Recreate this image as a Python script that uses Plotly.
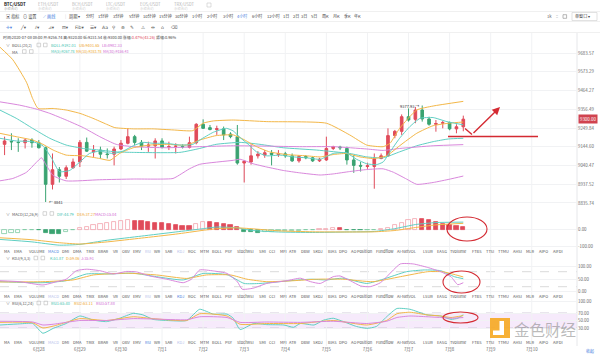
import math
from datetime import datetime, timedelta
import plotly.graph_objects as go

W, H = 600, 354
FONT = "Noto Sans CJK SC"
RED = "#e04b5a"
GREEN = "#3aa371"
TEAL = "#5fcfc3"
ORANGE = "#f3b748"
PINK = "#d987dc"
T_TEAL = "#3fbfb0"
T_ORANGE = "#eea52c"
T_PINK = "#cf6ad3"
DRAW = "#d42a32"
GRID = "#f1f2f4"
TXT = "#555555"

# ---------------- data ----------------
START = datetime(2020, 6, 27, 4, 0)      # first 4h candle
STEP = timedelta(hours=4)

opens = [9158, 9175, 9170, 9167, 9182, 9167, 9139, 8937, 9017, 8981, 9028, 9060, 9169, 9116, 9126, 9104,
         9103, 9132, 9164, 9201, 9169, 9148, 9150, 9177, 9143, 9147, 9146, 9141, 9167, 9271, 9252, 9241,
         9245, 9216, 9201, 9054, 9060, 9094, 9098, 9109, 9101, 9105, 9094, 9066, 9090, 9083, 9066, 9071,
         9135, 9143, 9135, 9071, 9041, 9035, 9035, 9079, 9094, 9207, 9231, 9314, 9299, 9352, 9301, 9271,
         9277, 9280, 9245, 9256.74]
highs = [9201, 9220, 9192, 9192, 9192, 9182, 9145, 9107, 9032, 9041, 9079, 9182, 9196, 9154, 9145, 9135,
         9145, 9182, 9248, 9211, 9182, 9173, 9192, 9192, 9173, 9164, 9158, 9201, 9277, 9299, 9267, 9263,
         9258, 9226, 9267, 9069, 9158, 9120, 9126, 9126, 9126, 9116, 9107, 9098, 9098, 9088, 9083, 9201,
         9150, 9150, 9145, 9098, 9060, 9056, 9107, 9107, 9248, 9239, 9327, 9361, 9370, 9377.93, 9314, 9295,
         9290, 9286, 9271, 9320.00]
lows = [9098, 9126, 9116, 9135, 9139, 9135, 8841, 8909, 8947, 8966, 9022, 9032, 9116, 9088, 9079, 9079,
        9041, 9126, 9158, 9154, 9126, 9116, 9079, 9135, 9126, 9107, 9135, 9135, 9158, 9245, 9237, 9211,
        9182, 9192, 9045, 8947, 9045, 9079, 9083, 9041, 9088, 9083, 9060, 9056, 9075, 9060, 9060, 9066,
        9126, 9126, 9045, 9000, 9007, 9022, 8913, 9075, 9088, 9192, 9211, 9286, 9277, 9286, 9263, 9229,
        9248, 9237, 9220, 9231.54]
closes = [9177, 9172, 9168, 9182, 9167, 9139, 8937, 9017, 8981, 9028, 9060, 9169, 9120, 9124, 9103, 9101,
          9132, 9164, 9201, 9169, 9148, 9154, 9177, 9141, 9145, 9148, 9144, 9167, 9271, 9248, 9241, 9246,
          9211, 9201, 9054, 9064, 9094, 9103, 9111, 9101, 9107, 9094, 9066, 9090, 9083, 9066, 9075, 9135,
          9145, 9139, 9071, 9041, 9037, 9039, 9079, 9094, 9207, 9231, 9314, 9295, 9352, 9301, 9271, 9275,
          9280, 9245, 9256.74, 9300.00]

# overlay lines: positions in candle units, values
ub_idx = [-0.7, 1.2, 3.2, 4.1, 4.9, 7.1, 9.0, 11.0, 12.9, 14.9, 16.1, 18.8, 21.7, 24.6, 27.5, 29.0, 30.5,
          33.4, 38.3, 47.0, 50.4, 52.9, 55.3, 56.3, 57.7, 60.2, 62.6, 67]
ub_val = [9719, 9644, 9512, 9418, 9361, 9361, 9352, 9333, 9305, 9271, 9252, 9245, 9245, 9239, 9235, 9277,
          9290, 9295, 9286, 9277, 9211, 9154, 9145, 9164, 9248, 9352, 9375, 9401.65]
boll_idx = [-0.7, 1.7, 4.1, 6.6, 9.0, 11.5, 13.9, 16.3, 18.8, 25.6, 28.5, 30.9, 34.4, 37.3, 40.7, 45.6,
            50.4, 52.9, 55.3, 57.7, 60.2, 62.6, 64.8, 67]
boll_val = [9352, 9305, 9248, 9192, 9154, 9135, 9126, 9116, 9113, 9113, 9135, 9158, 9169, 9158, 9139, 9126,
            9107, 9088, 9083, 9116, 9150, 9173, 9188, 9192.01]
lb_idx = [-0.7, 1.2, 3.2, 4.6, 5.4, 6.1, 7.1, 9.0, 13.9, 18.8, 24.6, 25.8, 27.0, 28.5, 33.4, 34.4, 36.3,
          38.3, 40.7, 43.1, 46.1, 48.0, 50.4, 52.9, 55.3, 56.8, 58.7, 60.2, 62.6, 65.1, 67]
lb_val = [8956, 8969, 9003, 9056, 9083, 9041, 8985, 8956, 8962, 8966, 8969, 8994, 9022, 9047, 9069, 9075,
          9050, 9032, 9013, 9000, 8988, 8994, 9007, 9018, 9022, 9003, 8966, 8937, 8947, 8966, 8982.33]
ma5_idx = [-0.7, 1.7, 4.1, 5.6, 6.9, 8.0, 9.5, 11.0, 12.4, 13.9, 15.8, 17.3, 18.8, 20.2, 21.7, 23.6, 25.6,
           27.5, 28.5, 30.5, 32.4, 33.4, 34.4, 35.6, 36.8, 38.3, 40.2, 42.2, 44.1, 46.1, 48.0, 49.9, 51.4,
           52.9, 54.3, 55.3, 56.3, 57.7, 59.2, 60.7, 62.6, 64.6, 67]
ma5_val = [9192, 9177, 9173, 9150, 9079, 9007, 9013, 9060, 9107, 9120, 9107, 9120, 9150, 9169, 9164, 9164,
           9154, 9158, 9182, 9226, 9248, 9233, 9196, 9158, 9116, 9094, 9098, 9088, 9083, 9075, 9107, 9111,
           9075, 9050, 9045, 9060, 9116, 9192, 9258, 9305, 9309, 9286, 9267.78]
ma10_idx = [-0.7, 1.7, 4.1, 5.6, 7.1, 9.0, 11.5, 13.9, 15.4, 16.8, 18.8, 21.2, 23.6, 26.6, 28.5, 30.9, 33.4,
            34.8, 36.8, 38.7, 41.2, 44.1, 46.1, 48.0, 49.9, 51.9, 53.9, 55.8, 57.7, 60.2, 62.6, 65.1, 67]
ma10_val = [9220, 9201, 9182, 9158, 9126, 9098, 9094, 9079, 9069, 9107, 9139, 9154, 9158, 9154, 9182, 9207,
            9211, 9188, 9145, 9116, 9101, 9094, 9088, 9101, 9107, 9088, 9079, 9094, 9150, 9220, 9263, 9278,
            9283.78]
ma30_idx = [-0.7, 2.2, 4.6, 6.6, 9.0, 11.5, 13.9, 16.3, 18.8, 23.6, 28.5, 33.4, 38.3, 43.1, 48.0, 52.9,
            55.3, 57.7, 62.6, 67]
ma30_val = [9399, 9380, 9358, 9333, 9295, 9252, 9201, 9158, 9145, 9139, 9145, 9150, 9148, 9145, 9145, 9132,
            9124, 9135, 9150, 9156.43]

macd_hist = [-25, -22, -20, -4, -3, -4, -22, -26, -28, -14, -6, 8, 18, 27, 34, 40, 45, 52, 55, 54, 50, 46,
             42, 38, 33, 28, 23, 20, 32, 45, 44, 40, 36, 28, 18, -15, -18, -20, -16, -14, -12, -10, -9, -7,
             -5, -4, 4, 6, 9, 7, -3, -5, -6, -4, -3, 3, 12, 28, 42, 55, 66, 64, 55, 45, 36, 28, 20, 15.04]
dif_idx = [-0.7, 4, 8, 11, 15, 20, 25, 29, 31, 34, 36, 40, 45, 50, 54, 57, 60, 63, 67]
dif_val = [-60, -75, -95, -90, -65, -40, -15, 5, 15, 10, -5, -15, -18, -15, -12, 5, 30, 42, 44.79]
dea_val = [-50, -62, -80, -88, -75, -52, -28, -5, 5, 10, 5, -8, -14, -15, -14, -6, 12, 28, 37.27]

k_idx = [-0.7, 5.6, 9, 12, 15.4, 18.8, 22.2, 26.1, 29, 32.5, 35, 37.3, 41.7, 44.7, 47, 49.4, 52.9, 55.3,
         58.7, 61.3, 63.7, 65.7, 67]
k_val = [40, 36, 44, 71, 71, 74, 60, 47, 73, 68, 33, 33, 44, 50, 47, 54, 33, 50, 80, 87, 84, 60, 51.87]
d_idx = [-0.7, 5.6, 10, 13, 17.8, 22.2, 26.6, 29.5, 33, 35.4, 38.3, 42.2, 45.6, 49.4, 53.8, 57.8, 61.8, 64, 67]
d_val = [39, 40, 47, 67, 74, 67, 53, 67, 67, 50, 40, 44, 50, 50, 40, 60, 80, 80, 59.06]
j_idx = [-0.7, 2.2, 5.6, 7.6, 9, 10.5, 12, 13.9, 15.9, 17.8, 19.3, 21.2, 23.7, 26.1, 27.3, 28.5, 30.5, 32.5,
         34, 34.7, 36.3, 38.3, 41.2, 43.2, 44.7, 46.1, 48, 49, 50.5, 52, 53.4, 54.9, 57.8, 59.7, 61.8, 63.7,
         65.2, 66.2, 67]
j_val = [44, 40, 27, 40, 50, 84, 90, 84, 71, 81, 79, 63, 50, 36, 50, 87, 83, 73, 40, 10, 14, 33, 44, 54, 40,
         33, 60, 63, 44, 23, 20, 36, 111, 111, 97, 80, 60, 28, 35.91]

rsi1_idx = [-0.7, 2.2, 4.1, 5.6, 7.1, 9.0, 11.0, 13.0, 14.9, 16.8, 18.8, 20.2, 21.7, 23.7, 26.6, 28.5, 30.5,
            32.5, 33.4, 34.4, 36.4, 38.3, 40.8, 42.2, 43.2, 45.2, 46.6, 48.0, 49.5, 51.4, 52.9, 54.3, 55.8,
            57.3, 59.2, 61.7, 63.7, 65.2, 66.2, 67]
rsi1_val = [38, 41, 42, 16, 29, 42, 62, 51, 47, 56, 69, 65, 53, 50, 50, 80, 67, 67, 56, 26, 42, 39, 38, 32,
            42, 38, 51, 56, 47, 34, 29, 34, 60, 82, 80, 65, 62, 53, 56, 65.40]
rsi23_idx = [-0.7, 4.1, 5.6, 7.1, 9, 11, 14.9, 18.8, 21.7, 26.6, 28.5, 32.5, 34.4, 38.3, 43.2, 48, 52.9,
             55.8, 57.3, 59.2, 61.7, 63.7, 65.2, 67]
rsi2_val = [45, 44, 30, 35, 45, 55, 50, 60, 55, 50, 68, 62, 40, 42, 42, 50, 38, 50, 68, 72, 65, 62, 58, 63.11]
rsi3_val = [48, 46, 38, 40, 45, 50, 50, 55, 54, 52, 60, 58, 45, 46, 45, 48, 42, 48, 58, 62, 60, 58, 56, 57.88]

price_ticks = [9683.57, 9573.29, 9464.27, 9356.49, 9249.84, 9144.60, 9040.47, 8937.52, 8835.74]
day_ticks = ["2020-06-28", "2020-06-29", "2020-06-30", "2020-07-01", "2020-07-02", "2020-07-03",
             "2020-07-04", "2020-07-05", "2020-07-06", "2020-07-07", "2020-07-08", "2020-07-09", "2020-07-10"]
day_text = ["6月28", "6月29", "6月30", "7月1", "7月2", "7月3", "7月4", "7月5", "7月6", "7月7", "7月8",
            "7月9", "7月10"]
last_price = 9300.00
high_mark = 9377.93
low_mark = 8841

# ---------------- helpers ----------------
def t_at(i):
    return START + STEP * i

def ts(t):
    return t.strftime("%Y-%m-%d %H:%M:%S")

def px(x):
    return x / W

def py(y):
    return 1 - y / H

DAY0 = datetime(2020, 7, 8)
PX_DAY0 = 449.6
PX_PER_DAY = 41.08

def t_px(x):
    return DAY0 + timedelta(days=(x - PX_DAY0) / PX_PER_DAY)

x_range = [ts(t_px(0)), ts(t_px(577))]
XDOM = [0, 577 / W]
MAIN_DOM = [py(208), py(38)]
MACD_DOM = [py(250), py(208)]
KDJ_DOM = [py(296), py(253)]
RSI_DOM = [py(346), py(298)]

fig = go.Figure()
times = [ts(t_at(i)) for i in range(len(opens))]

def line(idx, vals, color, xa, ya, width=1):
    fig.add_trace(go.Scatter(x=[ts(t_at(i)) for i in idx], y=vals, mode="lines",
                             line=dict(color=color, width=width, shape="spline", smoothing=0.5),
                             xaxis=xa, yaxis=ya, hoverinfo="skip", showlegend=False))

# main overlays
line(ub_idx, ub_val, ORANGE, "x", "y")
line(boll_idx, boll_val, TEAL, "x", "y")
line(lb_idx, lb_val, PINK, "x", "y")
line(ma30_idx, ma30_val, PINK, "x", "y")
line(ma10_idx, ma10_val, ORANGE, "x", "y")
line(ma5_idx, ma5_val, TEAL, "x", "y")

fig.add_trace(go.Candlestick(
    x=times, open=opens, high=highs, low=lows, close=closes,
    increasing=dict(line=dict(color=RED, width=1), fillcolor=RED),
    decreasing=dict(line=dict(color=GREEN, width=1), fillcolor=GREEN),
    whiskerwidth=0, xaxis="x", yaxis="y", showlegend=False, hoverinfo="skip"))

# MACD histogram: filled when falling, hollow when rising
fill_cols, edge_cols = [], []
for i, v in enumerate(macd_hist):
    prev = macd_hist[i - 1] if i else v
    solid = i > 0 and v < prev
    base = RED if v >= 0 else GREEN
    light = "#f2a2ab" if v >= 0 else "#7ccaa2"
    fill_cols.append(base if solid else "rgba(255,255,255,0)")
    edge_cols.append(base if solid else light)
fig.add_trace(go.Bar(x=times, y=macd_hist, width=0.62 * 4 * 3600 * 1000,
                     marker=dict(color=fill_cols, line=dict(color=edge_cols, width=0.8)),
                     xaxis="x2", yaxis="y2", hoverinfo="skip", showlegend=False))
line(dif_idx, dif_val, TEAL, "x2", "y2")
line(dif_idx, dea_val, ORANGE, "x2", "y2")

# KDJ
line(k_idx, k_val, TEAL, "x3", "y3")
line(d_idx, d_val, ORANGE, "x3", "y3")
line(j_idx, j_val, PINK, "x3", "y3")

# RSI
line(rsi1_idx, rsi1_val, TEAL, "x4", "y4")
line(rsi23_idx, rsi2_val, ORANGE, "x4", "y4")
line(rsi23_idx, rsi3_val, PINK, "x4", "y4")

# hand-drawn red marks on the price panel
fig.add_trace(go.Scatter(x=[ts(t_px(448)), ts(t_px(538))], y=[9202, 9202], mode="lines",
                         line=dict(color=DRAW, width=1.4), xaxis="x", yaxis="y",
                         hoverinfo="skip", showlegend=False))
fig.add_trace(go.Scatter(x=[ts(t_px(465)), ts(t_px(472))], y=[9247, 9213], mode="lines",
                         line=dict(color=DRAW, width=1.4), xaxis="x", yaxis="y",
                         hoverinfo="skip", showlegend=False))
fig.add_annotation(x=ts(t_px(500)), y=math.log10(9369), xref="x", yref="y",
                   ax=ts(t_px(472)), ay=math.log10(9213), axref="x", ayref="y",
                   text="", showarrow=True, arrowhead=2, arrowsize=1.1, arrowwidth=1.4, arrowcolor=DRAW)

# ellipses on indicator panels
def ellipse(xa, ya, x0, x1, y0, y1):
    fig.add_shape(type="circle", xref=xa, yref=ya, x0=ts(t_px(x0)), x1=ts(t_px(x1)), y0=y0, y1=y1,
                  line=dict(color=DRAW, width=1.1))
ellipse("x2", "y2", 447, 487, -69.7, 75.8)
ellipse("x3", "y3", 443, 480, -5.2, 82.8)
ellipse("x4", "y4", 443, 478, 43.3, 72.7)

# ---------------- axes ----------------
def xax(anchor, show=False):
    d = dict(domain=XDOM, range=x_range, type="date", anchor=anchor, showgrid=False, zeroline=False,
             showline=False, fixedrange=True, rangeslider=dict(visible=False), ticks="")
    if show:
        d.update(showticklabels=True, tickvals=day_ticks, ticktext=day_text,
                 tickfont=dict(family=FONT, size=4.4, color="#666"))
    else:
        d.update(showticklabels=False)
    return d

yfont = dict(family=FONT, size=4.4, color="#666")
layout = dict(
    width=W, height=H, margin=dict(l=0, r=0, t=0, b=0),
    paper_bgcolor="white", plot_bgcolor="white", showlegend=False, hovermode=False,
    boxgap=0.45, bargap=0,
    xaxis=xax("y"), xaxis2=xax("y2"), xaxis3=xax("y3"), xaxis4=xax("y4", True),
    yaxis=dict(domain=MAIN_DOM, type="log", range=[3.944909, 3.990018], side="right", anchor="x",
               tickvals=price_ticks, ticktext=[f"{v:.2f}" for v in price_ticks], ticks="",
               showgrid=True, gridcolor=GRID, zeroline=False, tickfont=yfont, fixedrange=True),
    yaxis2=dict(domain=MACD_DOM, range=[-124.2, 130.3], side="right", anchor="x2",
                tickvals=[0, -100], ticktext=["0.00", "-100.00"], ticks="",
                showgrid=True, gridcolor=GRID, zeroline=False, tickfont=yfont, fixedrange=True),
    yaxis3=dict(domain=KDJ_DOM, range=[-17.2, 154.8], side="right", anchor="x3",
                tickvals=[100, 50, 0], ticktext=["100.00", "50.00", "0.00"], ticks="",
                showgrid=True, gridcolor=GRID, zeroline=False, tickfont=yfont, fixedrange=True),
    yaxis4=dict(domain=RSI_DOM, range=[-18, 110], side="right", anchor="x4",
                tickvals=[100, 70, 50, 30], ticktext=["100.00", "70.00", "50.00", "30.00"], ticks="",
                showgrid=True, gridcolor=GRID, zeroline=False, tickfont=yfont, fixedrange=True),
)
fig.update_layout(**layout)

# RSI band and dashed guides
fig.add_shape(type="rect", xref="paper", yref="y4", x0=0, x1=577 / W, y0=30, y1=70,
              fillcolor="#f6eafb", line=dict(width=0), layer="below")
for yv in (70, 30):
    fig.add_shape(type="line", xref="paper", yref="y4", x0=0, x1=577 / W, y0=yv, y1=yv,
                  line=dict(color="#c8bcd0", width=0.8, dash="dash"), layer="below")
for yv in (80, 20):
    fig.add_shape(type="line", xref="paper", yref="y3", x0=0, x1=577 / W, y0=yv, y1=yv,
                  line=dict(color="#d0d0d0", width=0.8, dash="dash"), layer="below")

# vertical day grid across all panels, axis separator, toolbar separators
for d in day_ticks:
    fig.add_shape(type="line", xref="x", yref="paper", x0=d, x1=d, y0=py(346), y1=py(33),
                  line=dict(color=GRID, width=1), layer="below")
fig.add_shape(type="line", xref="paper", yref="paper", x0=577 / W, x1=577 / W, y0=py(346), y1=py(33),
              line=dict(color="#e6e7ea", width=1), layer="below")
for yy in (11.5, 21.5, 32.5):
    fig.add_shape(type="line", xref="paper", yref="paper", x0=0, x1=1, y0=py(yy), y1=py(yy),
                  line=dict(color="#ececec", width=0.8), layer="below")

# ---------------- texts ----------------
def txt(x, y, s, color=TXT, size=4.2, anchor="left", family=FONT):
    fig.add_annotation(xref="paper", yref="paper", x=px(x), y=py(y), text=s, showarrow=False,
                       xanchor=anchor, yanchor="middle", borderpad=0,
                       font=dict(family=family, size=size, color=color))

def box(x, y, s=3.6, color="#b8b8b8"):
    fig.add_shape(type="rect", xref="paper", yref="paper", x0=px(x), x1=px(x + s),
                  y0=py(y + s / 2), y1=py(y - s / 2), line=dict(color=color, width=0.6))

# pair tabs
txt(3, 3.5, "<b>BTC/USDT</b>", "#222", 4.4)
txt(3, 8, "永续合约", "#aaa", 3.4)
for xx, name in zip([37, 71, 105, 139, 173], ["ETH/USDT", "BCH/USDT", "LTC/USDT", "EOS/USDT", "TRX/USDT"]):
    txt(xx, 3.5, name, "#b5b5b5", 4.2)
    txt(xx, 8, "永续合约", "#cfcfcf", 3.4)
box(207, 5, 4, "#c8c8c8")

# toolbar
txt(5, 16.5, "▣ 指标", "#444", 4.2)
txt(22, 16.5, "⊙ 设置", "#444", 4.2)
txt(42, 16.5, "<span style='color:#4a7fe0'>⟋</span> 画线", "#4a7fe0", 4.2)
txt(64, 16.5, "|", "#ccc", 4.2)
txt(68, 16.5, "周期 ▾", "#444", 4.2)
periods = ["分时", "1分钟", "3分钟", "5分钟", "10分钟", "15分钟", "30分钟", "1小时", "2小时", "3小时",
           "4小时", "6小时", "12小时", "1日", "2日", "3日", "5日", "周K", "月K", "季K", "年K"]
period_x = [85, 97, 112, 128, 142, 158, 174, 191, 206, 222, 236, 251, 266, 282, 292, 300, 310, 321, 332,
            343, 353]
for xx, name in zip(period_x, periods):
    txt(xx, 16.5, name, "#4a7fe0" if name == "4小时" else "#444", 4.1)
txt(546, 16.5, "1k", "#666", 4.2)
txt(555, 16.5, "⁚⁚", "#666", 4.2)
box(563, 16.5, 3.6, "#888")
fig.add_shape(type="rect", xref="paper", yref="paper", x0=px(572), x1=px(597), y0=py(20.5), y1=py(12.5),
              line=dict(color="#cfcfcf", width=0.6))
txt(574, 16.5, "单窗口 ▾", "#444", 4.1)

# drawing tools
tools = [(5, "✛▾", "#4a7fe0"), (19, "╱▾", TXT), (33, "⫽▾", TXT), (47, "⊿▾", TXT), (61, "⊟▾", TXT),
         (74, "Fib▾", TXT), (89, "☰▾", TXT), (101, "Aa", TXT), (111, "⚲", TXT), (120, "⊕", TXT),
         (129, "✎", TXT), (140, "⚠", TXT), (150, "⇹", TXT), (160, "⌂", TXT), (170, "⌫", TXT)]
for xx, s, c in tools:
    txt(xx, 27, s, c, 4.6, family="DejaVu Sans")

# info line
info = ("时间:2020-07-08 08:00 开:9256.74 高:9320.00 低:9231.54 收:9300.00 "
        "涨幅:<span style='color:#e04b5a'>0.47%(43.26)</span> 振幅:0.96%")
txt(2, 36.5, info, "#444", 3.9)

# panel legends
txt(5, 45, "∨", "#777", 3.9)
txt(11, 45, "BOLL(20,2)", "#555", 3.9)
box(37, 45); box(43.5, 45)
txt(50, 45, "BOLL:9192.01", T_TEAL, 3.9)
txt(78, 45, "UB:9401.65", T_ORANGE, 3.9)
txt(101, 45, "LB:8982.33", T_PINK, 3.9)
txt(11, 51.5, "MA", "#555", 3.9)
box(22.5, 51.5); box(29.5, 51.5)
txt(50, 51.5, "MA(5):9267.78", T_TEAL, 3.6)
txt(75, 51.5, "MA(10):9283.78", T_ORANGE, 3.6)
txt(102, 51.5, "MA(30):9156.43", T_PINK, 3.6)

txt(5, 213.5, "∨", "#777", 3.9)
txt(11, 213.5, "MACD(12,26,9)", "#555", 3.9)
box(43, 213.5); box(50, 213.5)
txt(56, 213.5, "DIF:44.79", T_TEAL, 3.9)
txt(76, 213.5, "DEA:37.27", T_ORANGE, 3.9)
txt(94, 213.5, "MACD:15.04", T_PINK, 3.9)

txt(5, 258, "∨", "#777", 3.9)
txt(11, 258, "KDJ(9,3,3)", "#555", 3.9)
box(34, 258); box(41, 258)
txt(49, 258, "K:51.87", T_TEAL, 3.9)
txt(65, 258, "D:59.06", T_ORANGE, 3.9)
txt(80, 258, "J:35.91", T_PINK, 3.9)

txt(5, 303, "∨", "#777", 3.9)
txt(11, 303, "RSI(6,12,24)", "#555", 3.9)
box(37, 303); box(44, 303)
txt(50, 303, "RSI1:65.40", T_TEAL, 3.9)
txt(73, 303, "RSI2:63.11", T_ORANGE, 3.9)
txt(95, 303, "RSI3:57.88", T_PINK, 3.9)

# indicator tab rows
tabs = ["MA", "EMA", "VOLUME", "MACD", "DMI", "DMA", "TRIX", "BRAR", "VR", "OBV", "EMV", "RSI", "WR", "SAR",
        "KDJ", "ROC", "MTM", "BOLL", "PSY", "StochRSI", "SMI", "CCI", "MFI", "ATR", "DBW", "SKDJ", "BIAS",
        "DPO", "AO", "Position", "Fundflow", "AI-NetVOL", "LSUR", "EASG", "Tvolume", "FTBS", "TTSI", "TTMU",
        "AHSI", "MLR", "AIPO", "AIFDI"]
tab_x = [7, 18, 37, 53, 65, 77, 90, 103, 115, 126, 137, 148, 158, 169, 180, 192, 204, 217, 229, 245, 262,
         272, 283, 293, 305, 318, 332, 343, 353, 365, 385, 407, 428, 442, 458, 477, 490, 503, 517, 530, 543,
         558]
rows = [(250.5, "MACD"), (295.5, "KDJ"), (342, "RSI")]
for yy, own in rows:
    for xx, name in zip(tab_x, tabs):
        if name == own:
            c = "#4a7fe0"
        elif name in ("MACD", "KDJ", "RSI"):
            c = "#b8c3ec"
        else:
            c = "#555"
        txt(xx, yy, name, c, 4.0, anchor="center")

# high / low marks and last price tag
fig.add_annotation(x=ts(t_at(61)), y=math.log10(high_mark), xref="x", yref="y", text="9377.93 →",
                   showarrow=False, xanchor="right", yanchor="middle", xshift=-1,
                   font=dict(family=FONT, size=4, color="#333"))
fig.add_annotation(x=ts(t_at(6)), y=math.log10(low_mark), xref="x", yref="y", text="← 8841",
                   showarrow=False, xanchor="left", yanchor="middle", xshift=1,
                   font=dict(family=FONT, size=4, color="#333"))
fig.add_annotation(x=578 / W, y=math.log10(last_price), xref="paper", yref="y", text="9300.00",
                   showarrow=False, xanchor="left", yanchor="middle", bgcolor="#d0434f", borderpad=1,
                   font=dict(family=FONT, size=4.4, color="white"))

# watermark
fig.add_shape(type="rect", xref="paper", yref="paper", x0=px(490), x1=px(510), y0=py(338), y1=py(318),
              fillcolor="rgba(246,168,33,0.9)", line=dict(width=0))
fig.add_shape(type="rect", xref="paper", yref="paper", x0=px(499.5), x1=px(504), y0=py(334), y1=py(321),
              fillcolor="white", line=dict(width=0))
fig.add_shape(type="rect", xref="paper", yref="paper", x0=px(493), x1=px(504), y0=py(335), y1=py(330.5),
              fillcolor="white", line=dict(width=0))
txt(545, 328.5, "金色财经", "rgba(120,120,120,0.5)", 15.5, anchor="center")
txt(590, 351, "收起", "#4a7fe0", 4.0, anchor="center")

fig.write_html("out.html")
